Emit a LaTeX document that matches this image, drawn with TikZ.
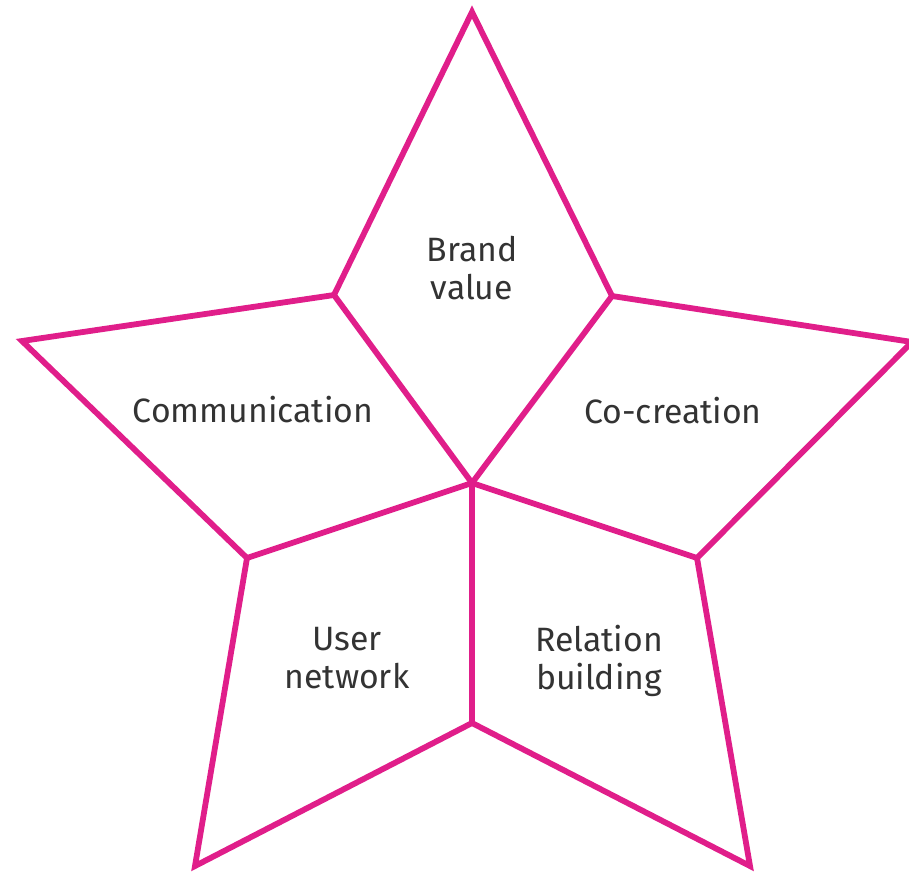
\documentclass[tikz,border=0pt]{standalone}
\usepackage{fontspec}
\setmainfont{Fira Sans}
\definecolor{starpink}{RGB}{224,30,138}
\definecolor{txtgray}{RGB}{51,51,51}
\begin{document}
\begin{tikzpicture}[x=0.01cm,y=-0.01cm,
  edge/.style={draw=starpink,line width=1.65pt,line join=miter},
  lbl/.style={text=txtgray,font=\fontsize{9.6}{10.8}\selectfont,align=center,inner sep=0pt}]
\useasboundingbox (0,0) rectangle (909,872);
% outer points
\coordinate (T) at (472,12);
\coordinate (R) at (912,342);
\coordinate (BR) at (750,866);
\coordinate (BL) at (195,866);
\coordinate (L) at (22,341);
% inner points
\coordinate (iUL) at (334,295);
\coordinate (iUR) at (612,296);
\coordinate (iR) at (697,558);
\coordinate (iB) at (472,723);
\coordinate (iL) at (247,558);
\coordinate (C) at (472,483);
\draw[edge] (T) -- (iUR) -- (R) -- (iR) -- (BR) -- (iB) -- (BL) -- (iL) -- (L) -- (iUL) -- cycle;
\draw[edge] (iUL) -- (C) -- (iUR);
\draw[edge] (iL) -- (C) -- (iR);
\draw[edge,line width=1.9pt] (C) -- (iB);
\node[lbl] (brand) at (472,268) {Brand\\value};
\node[lbl] (comm) at (253,410) {Communication};
\node[lbl] (cocr) at (673,411) {Co-creation};
\node[lbl] (user) at (347,658) {User\\network};
\node[lbl] (rel) at (599,661) {Relation\\building};
\end{tikzpicture}
\end{document}
